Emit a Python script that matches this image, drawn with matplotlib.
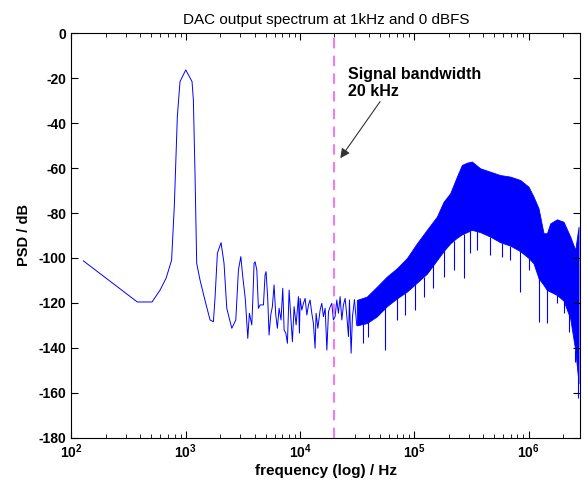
import numpy as np
import matplotlib
matplotlib.use("Agg")
import matplotlib.pyplot as plt
from matplotlib.ticker import LogLocator, MultipleLocator

plt.rcParams['font.family'] = ['Liberation Sans', 'DejaVu Sans']
plt.rcParams['axes.unicode_minus'] = False

# low / mid frequency part of the spectrum (single visible trace)
trace_f = [127, 377, 507, 596, 673, 752, 795, 844, 891, 1000, 1135, 1166, 1205, 1247,
           1333, 1496, 1633, 1746, 1807, 1892, 2037, 2163, 2286, 2529, 2742, 2891,
           3034, 3155, 3327, 3491, 3606, 3784, 3864, 3963, 4046, 4188, 4325, 4477,
           4786, 4943, 5047, 5224, 5358, 5546, 5728, 5929, 6137, 6339, 6561, 6823,
           7063, 7261, 7512, 7758, 8031, 8305, 8578, 8879, 9244, 9683, 9886, 10020,
           10370, 10720, 11090, 11480, 11860, 12250, 12680, 13100, 13550, 13830,
           14320, 15000, 15520, 16030, 16600, 17180, 17750, 18370, 18980, 19600,
           20280, 20990, 21680, 22440, 23230, 23990, 24830, 25700, 26550, 27100,
           28000, 28770, 29950]
trace_db = [-101.3, -119.6, -119.6, -114.3, -109.0, -101.0, -76.4, -37.1, -21.5, -16.3,
            -21.5, -29.7, -62.3, -102.4, -109.8, -120.2, -127.6, -128.4, -117.2, -97.9,
            -93.2, -102.4, -122.4, -131.3, -127.6, -105.4, -99.4, -108.3, -118.7, -135.8,
            -124.6, -129.8, -118.7, -102.4, -101.7, -105.4, -122.4, -120.9, -120.9,
            -107.6, -106.1, -118.7, -134.3, -125.4, -121.7, -112.0, -125.4, -131.3,
            -122.4, -127.6, -113.5, -132.1, -133.5, -138.0, -114.3, -126.1, -137.3,
            -121.7, -129.8, -117.2, -133.5, -118.0, -123.2, -120.2, -118.0, -125.4,
            -120.9, -118.7, -124.6, -129.1, -140.2, -124.6, -131.3, -123.2, -120.2,
            -126.1, -122.4, -141.0, -123.9, -121.7, -120.2, -127.6, -126.1, -118.7,
            -124.6, -117.2, -127.6, -120.9, -118.0, -126.1, -135.0, -118.7, -142.4,
            -126.1, -118.7]

# high frequency part: dense noise band, upper and lower edge
band_f = [31400, 38430, 47070, 57540, 70470, 86100, 105400, 128900, 157700, 180300,
          206300, 236000, 261100, 288800, 319400, 377600, 462000, 565200, 691600,
          846100, 1000000, 1106000, 1223000, 1353000, 1449000, 1549000, 1773000,
          2025000, 2317000, 2563000, 2740000]
band_hi = [-118.7, -117.2, -112.8, -108.3, -104.6, -100.1, -93.5, -87.5, -81.6, -75.0,
           -71.2, -63.8, -58.6, -57.6, -57.1, -60.1, -61.6, -63.1, -63.8, -65.3, -68.3,
           -72.7, -77.9, -89.0, -89.0, -84.6, -82.8, -83.9, -90.5, -96.4, -86.1]
band_lo = [-130.0, -129.0, -126.0, -121.5, -118.0, -115.0, -111.0, -107.0, -101.0, -97.0,
           -93.5, -91.0, -89.5, -88.5, -87.5, -88.5, -90.5, -93.0, -94.5, -97.0, -100.0,
           -102.4, -109.0, -112.0, -114.3, -115.0, -116.5, -119.0, -127.0, -141.0, -155.8]

# deep downward spikes below the band
spike_f = [35890, 39700, 55600, 70400, 83200, 101800, 120500, 147300, 180300, 220500,
           269700, 309000, 353400, 462000, 585300, 691600, 846100, 1000000, 1223000,
           1449000, 1773000, 2025000, 2239000, 2563000, 2708000]
spike_db = [-138.0, -135.0, -141.0, -127.6, -125.4, -123.2, -117.2, -113.5, -108.3,
            -105.4, -109.0, -97.9, -96.4, -98.7, -99.4, -100.9, -115.0, -105.4, -128.4,
            -129.0, -120.2, -124.6, -132.8, -146.2, -162.5]

bw_f = 2e4
arrow_head = (22540, -55.6)
arrow_tail = (50200, -30.4)

fig = plt.figure(figsize=(5.84, 4.88), dpi=100)
ax = fig.add_axes([0.1224, 0.1031, 0.8708, 0.8287])

blue = '#0000ff'
ax.plot(trace_f, trace_db, color=blue, lw=0.7)
ax.plot([trace_f[-1], band_f[0]], [trace_db[-1], band_lo[0]], color=blue, lw=0.7)
ax.fill_between(band_f, band_lo, band_hi, color=blue, lw=0.6, edgecolor=blue)
spike_top = np.interp(np.log10(spike_f), np.log10(band_f), band_lo)
ax.vlines(spike_f, spike_db, spike_top, color=blue, lw=0.8)

ax.axvline(bw_f, color='#f07cf0', lw=1.5, ls=(0, (5, 3.5)))

ax.text(26360, -15.0, 'Signal bandwidth\n20 kHz', fontsize=11.5, fontweight='bold',
        va='top', ha='left', linespacing=1.2)
ax.annotate('', xy=arrow_head, xytext=arrow_tail,
            arrowprops=dict(arrowstyle='-|>', color='#333333', lw=0.8,
                            shrinkA=0, shrinkB=0, mutation_scale=14))

ax.set_xscale('log')
ax.set_xlim(100, 2.8224e6)
ax.set_ylim(-180, 0)
ax.yaxis.set_major_locator(MultipleLocator(20))
ax.xaxis.set_major_locator(LogLocator(base=10, numticks=10))
ax.xaxis.set_minor_locator(LogLocator(base=10, subs=np.arange(2, 10), numticks=20))
ax.tick_params(which='both', direction='in', top=True, right=True, labelsize=10)
ax.tick_params(which='major', length=5)
ax.tick_params(which='minor', length=3)
for lab in ax.get_xticklabels() + ax.get_yticklabels():
    lab.set_fontweight('bold')
for s in ax.spines.values():
    s.set_linewidth(0.8)

ax.set_title('DAC output spectrum at 1kHz and 0 dBFS', fontsize=11, pad=7)
ax.set_xlabel('frequency (log) / Hz', fontsize=11, fontweight='bold', labelpad=2)
ax.set_ylabel('PSD / dB', fontsize=10.5, fontweight='bold', labelpad=6)

fig.savefig('out.png', dpi=100)
